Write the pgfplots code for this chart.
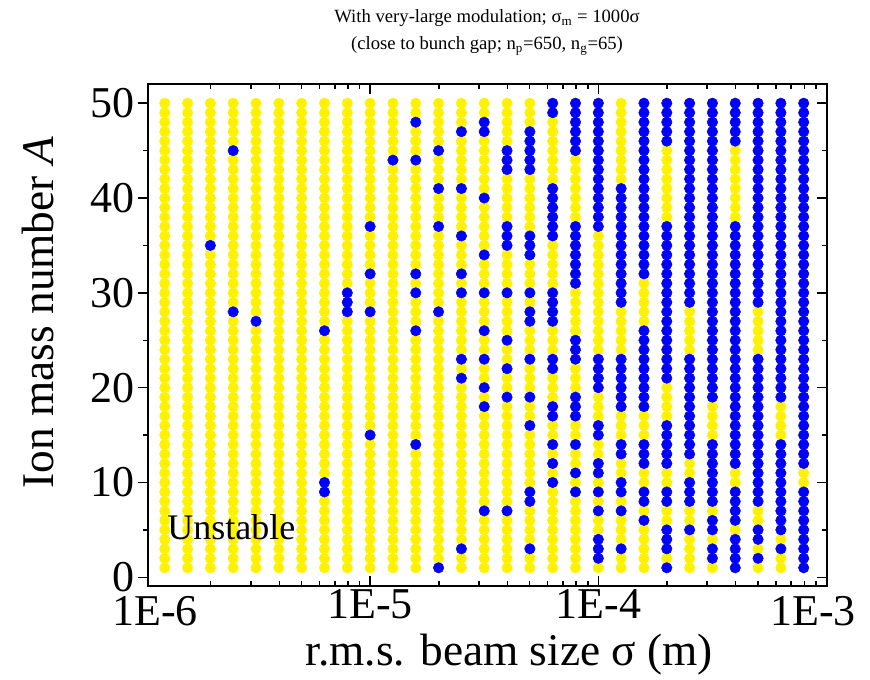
\documentclass[border=0pt]{standalone}
\usepackage{fontspec}
\setmainfont{Liberation Serif}
\usepackage{pgfplots}
\usepackage{pgfplotstable}
\pgfplotsset{compat=1.18}
% status matrix: rows = ion mass number A, columns c1..c29 = beam size 10^(-6+k/10) m; 1 = stable (blue), 0 = unstable (yellow)
\pgfplotstableread{
A c1 c2 c3 c4 c5 c6 c7 c8 c9 c10 c11 c12 c13 c14 c15 c16 c17 c18 c19 c20 c21 c22 c23 c24 c25 c26 c27 c28 c29
50 0 0 0 0 0 0 0 0 0 0 0 0 0 0 0 0 0 1 1 1 0 1 1 1 1 1 1 1 1
49 0 0 0 0 0 0 0 0 0 0 0 0 0 0 0 0 0 1 1 1 0 1 1 1 1 1 1 1 1
48 0 0 0 0 0 0 0 0 0 0 0 1 0 0 1 0 0 0 1 1 0 1 1 1 1 1 1 1 1
47 0 0 0 0 0 0 0 0 0 0 0 0 0 1 1 0 1 0 1 1 0 1 1 1 1 1 1 1 1
46 0 0 0 0 0 0 0 0 0 0 0 0 0 0 0 0 1 0 1 1 0 1 1 1 1 1 1 1 1
45 0 0 0 1 0 0 0 0 0 0 0 0 1 0 0 1 1 0 1 1 0 1 0 1 1 0 1 1 1
44 0 0 0 0 0 0 0 0 0 0 1 1 0 0 0 1 1 0 0 1 0 1 0 1 1 0 1 1 1
43 0 0 0 0 0 0 0 0 0 0 0 0 0 0 0 1 1 0 0 1 0 1 0 1 1 0 1 1 1
42 0 0 0 0 0 0 0 0 0 0 0 0 0 0 0 0 0 0 0 1 0 1 0 1 1 0 1 1 1
41 0 0 0 0 0 0 0 0 0 0 0 0 1 1 0 0 0 1 0 1 1 1 0 1 1 0 1 1 1
40 0 0 0 0 0 0 0 0 0 0 0 0 0 0 1 0 0 1 0 1 1 1 0 1 1 0 1 1 1
39 0 0 0 0 0 0 0 0 0 0 0 0 0 0 0 0 0 1 0 1 1 1 0 1 1 0 1 1 1
38 0 0 0 0 0 0 0 0 0 0 0 0 0 0 0 0 0 1 0 1 1 1 0 1 1 0 1 1 1
37 0 0 0 0 0 0 0 0 0 1 0 0 1 0 0 1 0 1 1 1 1 1 1 1 1 1 1 1 1
36 0 0 0 0 0 0 0 0 0 0 0 0 0 1 0 1 1 1 1 0 1 1 1 1 1 1 1 1 1
35 0 0 1 0 0 0 0 0 0 0 0 0 0 0 0 1 1 0 1 0 1 1 1 1 1 1 1 1 1
34 0 0 0 0 0 0 0 0 0 0 0 0 0 0 1 0 1 0 1 0 1 1 1 1 1 1 1 1 1
33 0 0 0 0 0 0 0 0 0 0 0 0 0 0 0 0 0 0 1 0 1 1 1 1 1 1 1 1 1
32 0 0 0 0 0 0 0 0 0 1 0 1 0 1 0 0 0 0 1 0 1 1 1 1 1 1 1 1 1
31 0 0 0 0 0 0 0 0 0 0 0 0 0 0 0 0 0 0 1 0 1 0 1 1 1 1 1 1 1
30 0 0 0 0 0 0 0 0 1 0 0 1 0 1 1 1 1 1 0 0 1 0 1 1 1 1 1 1 1
29 0 0 0 0 0 0 0 0 1 0 0 0 0 0 0 0 0 1 0 0 1 0 1 1 1 1 1 1 1
28 0 0 0 1 0 0 0 0 1 1 0 0 1 0 0 0 1 1 0 0 0 0 1 0 1 1 0 1 1
27 0 0 0 0 1 0 0 0 0 0 0 0 0 0 0 0 1 1 0 0 0 0 1 0 1 1 0 1 1
26 0 0 0 0 0 0 0 1 0 0 0 1 0 0 1 0 0 0 0 0 0 1 1 0 1 1 0 1 1
25 0 0 0 0 0 0 0 0 0 0 0 0 0 0 0 1 0 0 1 0 0 1 1 0 1 1 0 1 1
24 0 0 0 0 0 0 0 0 0 0 0 0 0 0 0 0 0 0 1 0 0 1 1 0 1 1 0 1 1
23 0 0 0 0 0 0 0 0 0 0 0 0 0 1 1 0 1 1 1 1 1 1 1 1 1 1 1 1 1
22 0 0 0 0 0 0 0 0 0 0 0 0 0 0 0 1 0 1 0 1 1 1 1 1 1 1 1 1 1
21 0 0 0 0 0 0 0 0 0 0 0 0 0 1 0 0 0 0 0 1 1 1 1 1 1 1 1 1 1
20 0 0 0 0 0 0 0 0 0 0 0 0 0 0 1 0 0 0 0 1 1 1 0 1 1 1 1 1 1
19 0 0 0 0 0 0 0 0 0 0 0 0 0 0 0 1 1 0 1 0 1 1 0 1 1 1 1 1 1
18 0 0 0 0 0 0 0 0 0 0 0 0 0 0 1 0 0 1 1 0 1 1 0 1 0 1 1 0 1
17 0 0 0 0 0 0 0 0 0 0 0 0 0 0 0 0 0 1 1 0 0 0 0 1 0 1 1 0 1
16 0 0 0 0 0 0 0 0 0 0 0 0 0 0 0 0 1 0 0 1 0 0 1 1 0 1 1 0 1
15 0 0 0 0 0 0 0 0 0 1 0 0 0 0 0 0 0 0 0 1 0 0 1 1 0 1 1 0 1
14 0 0 0 0 0 0 0 0 0 0 0 1 0 0 0 0 0 1 1 0 1 1 1 1 1 1 1 1 1
13 0 0 0 0 0 0 0 0 0 0 0 0 0 0 0 0 0 0 0 0 1 1 1 1 1 1 1 1 1
12 0 0 0 0 0 0 0 0 0 0 0 0 0 0 0 0 0 1 0 1 0 1 1 0 1 1 1 1 1
11 0 0 0 0 0 0 0 0 0 0 0 0 0 0 0 0 0 0 1 1 0 0 0 0 1 0 1 1 0
10 0 0 0 0 0 0 0 1 0 0 0 0 0 0 0 0 0 1 0 0 1 0 0 1 1 0 1 1 0
9 0 0 0 0 0 0 0 1 0 0 0 0 0 0 0 0 1 0 1 1 1 1 1 1 1 1 1 1 1
8 0 0 0 0 0 0 0 0 0 0 0 0 0 0 0 0 1 0 0 0 0 1 1 1 1 1 1 1 1
7 0 0 0 0 0 0 0 0 0 0 0 0 0 0 1 1 0 0 0 1 1 0 0 0 0 1 0 1 1
6 0 0 0 0 0 0 0 0 0 0 0 0 0 0 0 0 0 0 0 0 0 1 0 0 1 1 0 1 1
5 0 0 0 0 0 0 0 0 0 0 0 0 0 0 0 0 0 0 0 0 0 0 1 1 1 0 1 1 1
4 0 0 0 0 0 0 0 0 0 0 0 0 0 0 0 0 0 0 0 1 0 0 1 0 0 1 1 0 1
3 0 0 0 0 0 0 0 0 0 0 0 0 0 1 0 0 1 0 0 1 1 0 1 0 1 1 0 1 1
2 0 0 0 0 0 0 0 0 0 0 0 0 0 0 0 0 0 0 0 1 0 0 0 0 1 1 1 0 1
1 0 0 0 0 0 0 0 0 0 0 0 0 1 0 0 0 0 0 0 0 0 0 1 0 0 1 0 0 1
}\stab

\begin{document}
\begin{tikzpicture}[x=1pt,y=1pt]
\useasboundingbox (-111,-70.5) rectangle (541.5,439.5);
% right-hand inward ticks
\begin{axis}[
  at={(0,0)}, anchor=south west,
  scale only axis, width=508.9pt, height=376.3pt,
  xmode=log, xmin=1.063e-6, xmax=1e-3,
  ymin=-0.92, ymax=52,
  xtick=\empty, minor xtick={},
  ytick={0,10,20,30,40,50}, minor ytick={5,15,25,35,45},
  ytick pos=right, yticklabels={},
  tick align=inside,
  major tick length=7.5pt, minor tick length=3.75pt,
  every tick/.style={black, line width=1.1pt},
  axis line style={line width=1.5pt},
]
\end{axis}
\begin{axis}[
  at={(0,0)}, anchor=south west,
  scale only axis, width=508.9pt, height=376.3pt,
  xmode=log, xmin=1.063e-6, xmax=1e-3,
  ymin=-0.92, ymax=52,
  xtick={1e-5,1e-4,1e-3}, xticklabels={1E-5,1E-4,},
  minor xtick={2e-6,3e-6,4e-6,5e-6,6e-6,7e-6,8e-6,9e-6,
               2e-5,3e-5,4e-5,5e-5,6e-5,7e-5,8e-5,9e-5,
               2e-4,3e-4,4e-4,5e-4,6e-4,7e-4,8e-4,9e-4},
  ytick={0,10,20,30,40,50}, minor ytick={5,15,25,35,45},
  ytick pos=left,
  xtick align=inside, ytick align=outside,
  major tick length=7.5pt, minor tick length=3.75pt,
  every tick/.style={black, line width=1.1pt},
  axis line style={line width=1.5pt},
  /pgf/number format/assume math mode=true,
  tick label style={font=\fontsize{33}{33}\selectfont},
  xticklabel style={yshift=1pt},
  yticklabel style={xshift=1pt},
  clip=false,
]
\pgfplotsinvokeforeach{1,...,29}{
  \addplot[yellow, only marks, mark=*, mark size=3.9pt]
    table[x expr={10^(-6+#1/10)}, y=A] {\stab};
}
\pgfplotsinvokeforeach{1,...,29}{
  \addplot[blue, only marks, mark=*, mark size=3.9pt,
    restrict expr to domain={\thisrow{c#1}}{0.5:1.5}]
    table[x expr={10^(-6+#1/10)}, y=A] {\stab};
}
\end{axis}
\node[font=\fontsize{14}{14}\selectfont] at (254.25,426) {With very-large modulation; σ\textsubscript{m} = 1000σ};
\node[font=\fontsize{14}{14}\selectfont] at (254.25,405) {(close to bunch gap; n\textsubscript{p}=650, n\textsubscript{g}=65)};
\node[font=\fontsize{34}{34}\selectfont] at (271,-51.75) {r.m.s. beam size σ (m)};
\node[font=\fontsize{34}{34}\selectfont, rotate=90] at (-82.5,205) {Ion mass number \textit{A}};
\node[font=\fontsize{27}{27}\selectfont, anchor=west, inner sep=0pt] at (14.25,44.25) {Unstable};
\node[font=\fontsize{33}{33}\selectfont, anchor=north] at (5.25,-4) {1E-6};
\node[font=\fontsize{33}{33}\selectfont, anchor=north] at (498.75,-4) {1E-3};
\end{tikzpicture}
\end{document}
